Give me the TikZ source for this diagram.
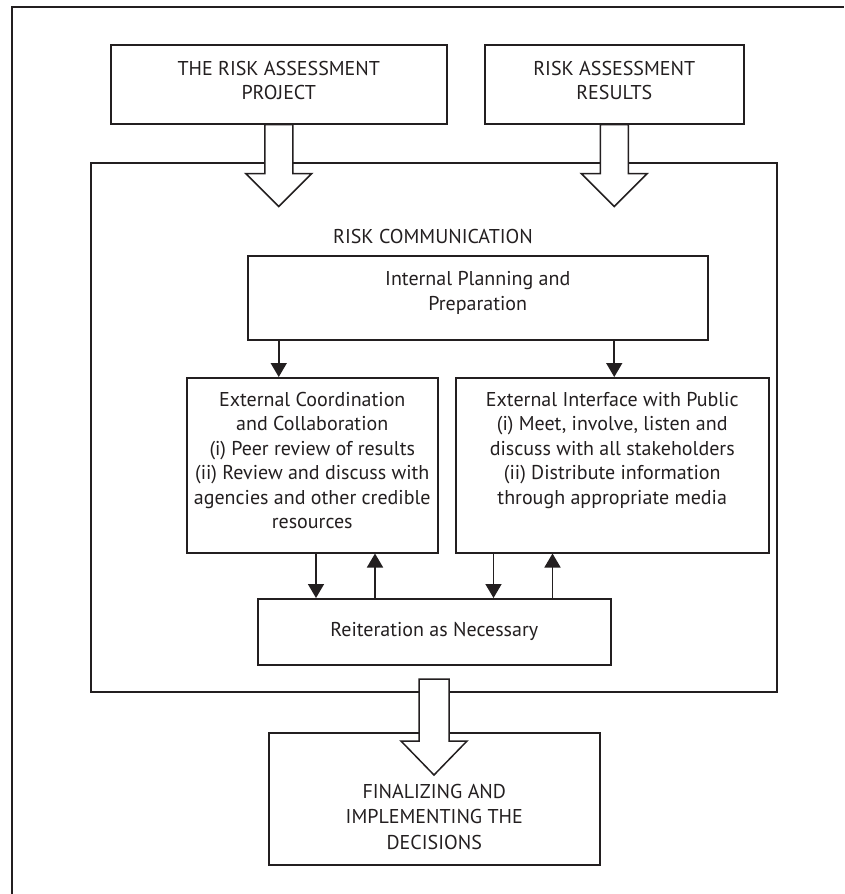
\documentclass[tikz,border=0pt]{standalone}
\usepackage{fontspec}
\setmainfont{PT Sans}
\usetikzlibrary{arrows.meta,calc}
\definecolor{ink}{HTML}{231F20}
\begin{document}
\begin{tikzpicture}[x=1pt,y=-1pt,
  txt/.style={text=ink, align=center, font=\fontsize{20}{24.5}\selectfont, inner sep=0pt},
  box/.style={txt, draw=ink, line width=1.5pt, anchor=north west},
  mainbox/.style={draw=ink, line width=2pt, anchor=north west, inner sep=0pt},
  barrow/.style={draw=ink, fill=white, line width=1.5pt, line join=miter},
  arr/.style={draw=ink, line width=1.6pt, -{Triangle[width=16pt,length=14pt]}}]
\useasboundingbox (0,0) rectangle (844,894);
\fill[white] (0,0) rectangle (844,894);
% outer frame (open at right and bottom)
\coordinate (fb) at (12,894);
\coordinate (fc) at (12,7);
\coordinate (fr) at (844,7);
\draw[ink, line width=2pt] (fb) -- (fc) -- (fr);
% top boxes
\node[box, minimum width=336pt, minimum height=79pt] (A) at (110,44) {};
\node[txt] (At) at ($(A.center)+(0,-4)$) {THE RISK ASSESSMENT\\PROJECT};
\node[box, minimum width=259pt, minimum height=79pt] (B) at (484,44) {};
\node[txt] (Bt) at ($(B.center)+(0,-4)$) {RISK ASSESSMENT\\RESULTS};
% main box
\node[mainbox, minimum width=686pt, minimum height=529pt] (M) at (90,162) {};
\node[txt] (RC) at (433,236) {RISK COMMUNICATION};
% inner boxes
\node[box, minimum width=460pt, minimum height=84pt] (P) at (247,255) {};
\node[txt] (Pt) at ($(P.center)+(0,-5)$) {Internal Planning and\\Preparation};
\node[box, minimum width=251pt, minimum height=175pt] (E1) at (186,377) {};
\node[txt, anchor=north] (E1t) at ($(E1.north)+(0,15)$) {External Coordination\\and Collaboration\\(i) Peer review of results\\(ii) Review and discuss with\\agencies and other credible\\resources};
\node[box, minimum width=313pt, minimum height=175pt] (E2) at (455,377) {};
\node[txt, anchor=north] (E2t) at ($(E2.north)+(0,15)$) {External Interface with Public\\(i) Meet, involve, listen and\\discuss with all stakeholders\\(ii) Distribute information\\through appropriate media};
\node[box, minimum width=353pt, minimum height=66pt] (R) at (257,598) {Reiteration as Necessary};
% final box
\node[box, minimum width=331pt, minimum height=132pt] (F) at (268,732) {};
\node[txt, font=\fontsize{20}{25.5}\selectfont] (Ft) at ($(F.center)+(0,18)$) {FINALIZING AND\\IMPLEMENTING THE\\DECISIONS};
% block arrows
\draw[barrow] ($(A.south)+(-14,0)$) -- ++(28,0) -- ++(0,49) -- ++(19,0) -- ++(-33,33) -- ++(-33,-33) -- ++(19,0) -- cycle;
\draw[barrow] ($(B.south)+(-14,0)$) -- ++(28,0) -- ++(0,49) -- ++(19,0) -- ++(-33,33) -- ++(-33,-33) -- ++(19,0) -- cycle;
\draw[barrow] ($(M.south)+(-15,-14)$) -- ++(30,0) -- ++(0,62) -- ++(18,0) -- ++(-33,34) -- ++(-33,-34) -- ++(18,0) -- cycle;
% thin arrows
\draw[arr] (P.south -| A.south) -- (E1.north -| A.south);
\draw[arr] (P.south -| B.south) -- (E2.north -| B.south);
\draw[arr] ([xshift=59pt]R.north west |- E1.south) -- ([xshift=59pt]R.north west);
\draw[arr] ([xshift=118pt]R.north west) -- ([xshift=118pt]R.north west |- E1.south);
\draw[arr] ([xshift=-118pt]R.north east |- E2.south) -- ([xshift=-118pt]R.north east);
\draw[arr] ([xshift=-59pt]R.north east) -- ([xshift=-59pt]R.north east |- E2.south);
\end{tikzpicture}
\end{document}
